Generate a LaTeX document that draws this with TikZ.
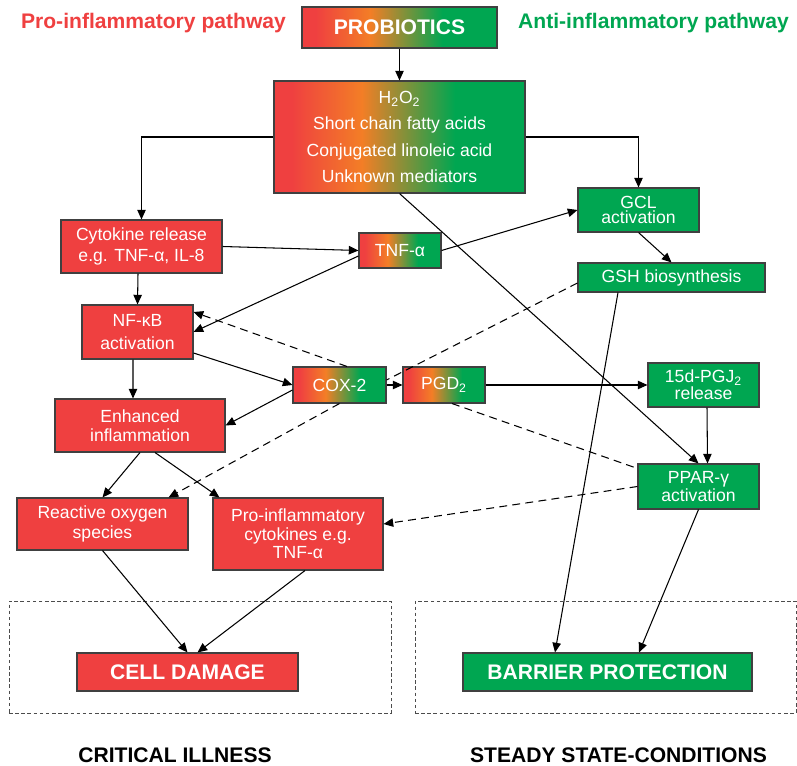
\documentclass[tikz,border=0pt]{standalone}
\usepackage{fontspec}
\setmainfont{Liberation Sans}
\definecolor{pathred}{RGB}{239,64,64}
\definecolor{pathgreen}{RGB}{0,166,81}
\definecolor{pathorange}{RGB}{243,126,38}
\usetikzlibrary{arrows.meta,positioning}
\pgfdeclarehorizontalshading{redtogreen}{100bp}{color(0bp)=(pathred); color(28.5bp)=(pathred); color(42.5bp)=(pathorange); color(61bp)=(pathgreen); color(100bp)=(pathgreen)}

\begin{document}
\begin{tikzpicture}[
    box/.style={draw=black!75, line width=0.6pt, text=white, align=center,
                inner sep=2pt, font=\fontsize{10}{11.5}\selectfont},
    redbox/.style={box, fill=pathred},
    greenbox/.style={box, fill=pathgreen},
    mixbox/.style={box, shading=redtogreen},
    tight/.style={font=\fontsize{10}{8.5}\selectfont},
    big/.style={font=\fontsize{12}{14}\selectfont\bfseries},
    arr/.style={-{Triangle[length=5.5pt,width=4.8pt]}, line width=0.6pt},
    darr/.style={arr, dash pattern=on 4.5pt off 3pt},
    dline/.style={line width=0.6pt, dash pattern=on 4.5pt off 3pt},
    zone/.style={draw=black!70, line width=0.5pt, dash pattern=on 2pt off 1.5pt}
  ]
    \useasboundingbox (0,0) rectangle (15.94,15.30);

    % Outcome zones
    \node[zone, minimum width=7.64cm, minimum height=2.24cm] (illzone) at (4.00, 2.16) {};
    \node[zone, minimum width=7.62cm, minimum height=2.24cm] (steadyzone) at (12.11, 2.16) {};

    % Headings
    \node[big, pathred] (prohead) at (3.07, 14.84) {Pro-inflammatory pathway};
    \node[big, pathgreen] (antihead) at (13.07, 14.84) {Anti-inflammatory pathway};

    % Probiotics and mediators
    \node[mixbox, big, minimum width=3.9cm, minimum height=0.82cm] (probiotics) at (7.99, 14.75)
      {PROBIOTICS};
    \node[mixbox, font=\fontsize{10}{15}\selectfont, minimum width=5.02cm, minimum height=2.24cm] (mediators) at (7.99, 12.56)
      {H\textsubscript{2}O\textsubscript{2}\\Short chain fatty acids\\Conjugated linoleic acid\\Unknown mediators};
    \draw[arr] (probiotics) -- (mediators);

    % Pro-inflammatory side
    \node[redbox, minimum width=3.22cm, minimum height=1.06cm] (cytokine) at (2.83, 10.37)
      {Cytokine release\\e.g. TNF-α, IL-8};
    \node[mixbox, minimum width=1.64cm, minimum height=0.70cm] (tnf) at (8.00, 10.29)
      {TNF-α};
    \node[redbox, font=\fontsize{10}{13}\selectfont, minimum width=2.22cm, minimum height=1.08cm] (nfkb) at (2.75, 8.66)
      {NF-κB\\activation};
    \node[mixbox, minimum width=1.86cm, minimum height=0.72cm] (cox) at (6.79, 7.60)
      {COX-2};
    \node[redbox, font=\fontsize{10}{10.5}\selectfont, minimum width=3.40cm, minimum height=1.06cm] (enhanced) at (2.80, 6.79)
      {Enhanced\\inflammation};
    \node[redbox, font=\fontsize{10}{11}\selectfont, minimum width=3.42cm, minimum height=1.04cm] (ros) at (2.05, 4.82)
      {Reactive oxygen\\species};
    \node[redbox, font=\fontsize{10}{10.5}\selectfont, minimum width=3.40cm, minimum height=1.44cm] (procyt) at (5.96, 4.62)
      {Pro-inflammatory\\cytokines e.g.\\TNF-α};
    \node[redbox, big, minimum width=4.42cm, minimum height=0.76cm] (damage) at (3.75, 1.86)
      {CELL DAMAGE};

    % Anti-inflammatory side
    \node[greenbox, tight, minimum width=2.42cm, minimum height=0.88cm] (gcl) at (12.77, 11.10)
      {GCL\\activation};
    \node[greenbox, minimum width=3.74cm, minimum height=0.58cm] (gsh) at (13.43, 9.75)
      {GSH biosynthesis};
    \node[mixbox, minimum width=1.64cm, minimum height=0.72cm] (pgd) at (8.88, 7.60)
      {PGD\textsubscript{2}};
    \node[greenbox, font=\fontsize{10}{8}\selectfont, minimum width=2.22cm, minimum height=0.88cm] (pgj) at (14.07, 7.60)
      {15d-PGJ\textsubscript{2}\\release};
    \node[greenbox, tight, minimum width=2.42cm, minimum height=0.90cm] (ppar) at (13.97, 5.57)
      {PPAR-γ\\activation};
    \node[greenbox, big, minimum width=5.78cm, minimum height=0.76cm] (barrier) at (12.15, 1.86)
      {BARRIER PROTECTION};

    % Bottom labels
    \node[big] (illness) at (3.50, 0.19) {CRITICAL ILLNESS};
    \node[big] (steady) at (12.37, 0.19) {STEADY STATE-CONDITIONS};

    % Solid connectors
    \draw[arr] (mediators.west) -| (cytokine.north);
    \draw[arr] (mediators.east) -| (gcl.north);
    \draw[arr] (mediators.south) -- (ppar.north);
    \draw[arr] (cytokine.east) -- (tnf.west);
    \draw[arr] (tnf.east) -- (gcl.west);
    \draw[arr] ([yshift=-0.11cm]tnf.west) -- (nfkb.east);
    \draw[arr] ([xshift=-0.07cm]cytokine.south) -- (nfkb.north);
    \draw[arr] (gcl.south) -- (gsh.north);
    \draw[arr] ([yshift=-0.42cm]nfkb.east) -- (cox.west);
    \draw[arr] ([xshift=-0.09cm]nfkb.south) -- ([xshift=-0.14cm]enhanced.north);
    \draw[arr] ([yshift=-0.1cm]cox.west) -- (enhanced.east);
    \draw[arr] (cox.east) -- (pgd.west);
    \draw[arr] (pgd.east) -- (pgj.west);
    \draw[arr] ([xshift=0.07cm]pgj.south) -- ([xshift=0.18cm]ppar.north);
    \draw[arr] (enhanced.south) -- (ros.north);
    \draw[arr] ([xshift=0.3cm]enhanced.south) -- ([xshift=0.14cm]procyt.north west);
    \draw[arr] (ros.south) -- (damage.north);
    \draw[arr] ([xshift=0.14cm]procyt.south) -- ([xshift=0.2cm]damage.north);
    \draw[arr] ([xshift=-1.07cm]gsh.south) -- ([xshift=-1.05cm]barrier.north);
    \draw[arr] (ppar.south) -- ([xshift=0.63cm]barrier.north);

    % Dashed connectors
    \draw[darr] ([xshift=0.15cm]cox.north) -- ([yshift=0.4cm]nfkb.east);
    \draw[dline] ([yshift=-0.11cm]gsh.west) -- ([yshift=0.1cm]cox.east);
    \draw[darr] (cox.south) -- ([xshift=-0.4cm]ros.north east);
    \draw[dline] ([xshift=0.16cm]pgd.south) -- ([yshift=-0.1cm]ppar.north west);
    \draw[darr] (ppar.west) -- ([yshift=0.2cm]procyt.east);
  \end{tikzpicture}
\end{document}
